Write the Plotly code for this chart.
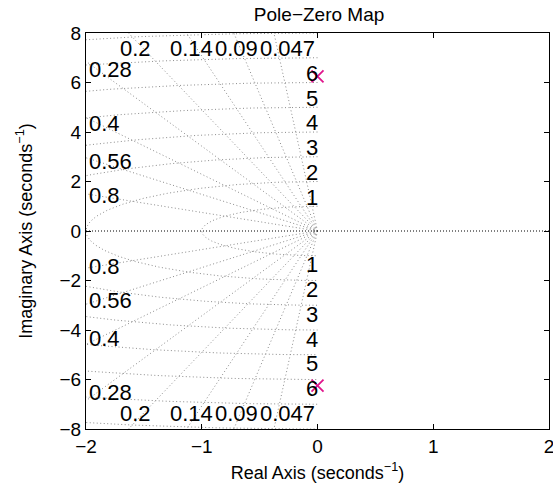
import numpy as np
import plotly.graph_objects as go

# Data
pole_real = [0.0, 0.0]
pole_imag = [6.25, -6.25]
zeta_vals = [0.047, 0.09, 0.14, 0.2, 0.28, 0.4, 0.56, 0.8]
zeta_top_labels = ["0.2", "0.14", "0.09", "0.047"]
zeta_left_labels = ["0.28", "0.4", "0.56", "0.8"]
wn_vals = [1, 2, 3, 4, 5, 6, 7, 8]
wn_labels = ["1", "2", "3", "4", "5", "6"]
x_ticks = [-2, -1, 0, 1, 2]
y_ticks = [-8, -6, -4, -2, 0, 2, 4, 6, 8]

FONT = "Liberation Sans, Arial, sans-serif"
GRID_COL = "#8c8c8c"
DOT = "1px,2.5px"

fig = go.Figure()

# damping lines
for z in zeta_vals:
    s = np.sqrt(1 - z * z)
    R = 12.0
    for sign in (1, -1):
        fig.add_trace(go.Scatter(x=[0, -z * R], y=[0, sign * s * R], mode="lines",
                                 line=dict(color=GRID_COL, width=1, dash=DOT),
                                 hoverinfo="skip", showlegend=False))

# natural frequency circles (left half)
th = np.linspace(np.pi / 2, 3 * np.pi / 2, 400)
for w in wn_vals:
    fig.add_trace(go.Scatter(x=w * np.cos(th), y=w * np.sin(th), mode="lines",
                             line=dict(color=GRID_COL, width=1, dash=DOT),
                             hoverinfo="skip", showlegend=False))

# real axis line
fig.add_trace(go.Scatter(x=[-2, 2], y=[0, 0], mode="lines",
                         line=dict(color="black", width=1, dash="1px,2px"),
                         hoverinfo="skip", showlegend=False))

# poles
fig.add_trace(go.Scatter(x=pole_real, y=pole_imag, mode="markers",
                         marker=dict(symbol="x-thin", size=12,
                                     line=dict(color="#e0168c", width=1.8),
                                     color="#e0168c"),
                         showlegend=False))

ann = []
lab_font = dict(family=FONT, size=22, color="black")
# top/bottom zeta labels
for lab in zeta_top_labels:
    z = float(lab)
    s = np.sqrt(1 - z * z)
    xl = -7.7 * z / s
    shift = 12 if lab == "0.047" else 0
    for sign in (1, -1):
        ann.append(dict(x=xl, y=sign * 7.39, text=lab, showarrow=False, xshift=shift,
                        xanchor="center", yanchor="middle", font=lab_font))
# left zeta labels
for lab in zeta_left_labels:
    z = float(lab)
    s = np.sqrt(1 - z * z)
    yl = 1.9 * s / z
    for sign in (1, -1):
        ann.append(dict(x=-2, y=sign * yl, text=lab, showarrow=False, xshift=1,
                        xanchor="left", yanchor="middle", font=lab_font))
# wn labels
for lab in wn_labels:
    w = float(lab)
    for sign in (1, -1):
        ann.append(dict(x=0, y=sign * (w + 0.37), text=lab, showarrow=False, xshift=2,
                        xanchor="right", yanchor="middle", font=lab_font))

fig.update_layout(
    width=553, height=489,
    margin=dict(l=86, r=4, t=33, b=60, autoexpand=False),
    paper_bgcolor="white", plot_bgcolor="white",
    title=dict(text="Pole\u2212Zero Map", x=0.577, xanchor="center", y=0.971, yanchor="middle",
               automargin=False, font=dict(family=FONT, size=19, color="black")),
    annotations=ann,
    showlegend=False,
)
fig.update_xaxes(range=[-2, 2], tickvals=x_ticks,
                 ticktext=[("\u2212" + str(-v)) if v < 0 else str(v) for v in x_ticks],
                 ticks="inside", ticklen=5, tickcolor="black", mirror="ticks",
                 showline=True, linecolor="black", linewidth=1, showgrid=False, zeroline=False,
                 automargin=False, ticklabeloverflow="allow",
                 tickfont=dict(family=FONT, size=19, color="black"),
                 title=dict(text="Real Axis (seconds<sup>\u22121</sup>)", standoff=10,
                            font=dict(family=FONT, size=18, color="black")))
fig.update_yaxes(range=[-8, 8], tickvals=y_ticks,
                 ticktext=[("\u2212" + str(-v)) if v < 0 else str(v) for v in y_ticks],
                 ticks="inside", ticklen=5, tickcolor="black", mirror="ticks",
                 showline=True, linecolor="black", linewidth=1, showgrid=False, zeroline=False,
                 automargin=False,
                 tickfont=dict(family=FONT, size=19, color="black"),
                 title=dict(text="Imaginary Axis (seconds<sup>\u22121</sup>)", standoff=22,
                            font=dict(family=FONT, size=18, color="black")))

fig.write_html("out.html", config={"displayModeBar": False},
               post_script="document.body.style.margin='0px';document.body.style.overflow='hidden';")
